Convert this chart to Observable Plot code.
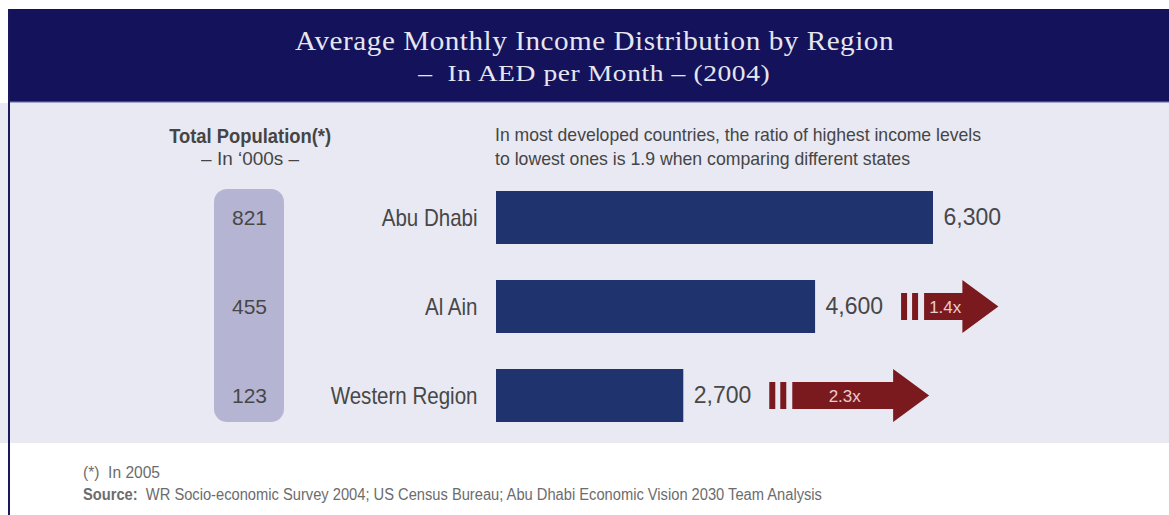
<!DOCTYPE html>
<html>
<head>
<meta charset="utf-8">
<script src="https://cdn.jsdelivr.net/npm/d3@7"></script>
<script src="https://cdn.jsdelivr.net/npm/@observablehq/plot@0.6"></script>
<style>
  html, body { margin: 0; padding: 0; background: #ffffff; }
  #root { position: relative; width: 1169px; height: 515px; overflow: hidden; background: #fff; }
  .abs { position: absolute; }
  #header { left: 8px; top: 9px; width: 1161px; height: 92px; background: #13125a; }
  #hline1 { left: 8px; top: 101px; width: 1161px; height: 1px; background: #4d4588; }
  #hline2 { left: 8px; top: 102px; width: 1161px; height: 1px; background: #a3a3cc; }
  #panel { left: 0; top: 103px; width: 1169px; height: 340px; background: #e9e9f3; }
  #lborder { left: 8px; top: 9px; width: 2px; height: 506px; background: #1b185e; z-index: 5; }
  .title { color: #e6e6ef; font-family: "Liberation Serif", "DejaVu Serif", serif; letter-spacing: 0.5px; }
  .sans { font-family: "Liberation Sans", Arial, sans-serif; }
  .fit { display: inline-block; white-space: nowrap; }
  .foot { color: #6c6c6c; font-size: 16px; line-height: 20px; }
</style>
</head>
<body>
<div id="root">
  <div id="header" class="abs"></div>
  <div id="hline1" class="abs"></div>
  <div id="hline2" class="abs"></div>
  <div class="abs" style="left:0;width:1190px;top:25px;text-align:center;line-height:32px;">
    <span class="fit title" data-w="599" style="font-size:27px;">Average Monthly Income Distribution by Region</span>
  </div>
  <div class="abs" style="left:0;width:1188px;top:58px;text-align:center;line-height:30px;">
    <span class="fit title" data-w="352" style="font-size:24px;">–&nbsp; In AED per Month – (2004)</span>
  </div>
  <div id="panel" class="abs"></div>
  <div class="abs sans" style="left:150px;width:200px;top:125px;text-align:center;color:#454545;line-height:22px;">
    <span class="fit" data-w="162" style="font-size:20px;font-weight:bold;">Total Population(*)</span>
  </div>
  <div class="abs sans" style="left:150px;width:200px;top:148px;text-align:center;color:#454545;line-height:22px;">
    <span class="fit" data-w="98" style="font-size:19px;">– In ‘000s –</span>
  </div>
  <div class="abs sans" style="left:495px;top:123px;color:#454545;line-height:23px;">
    <span class="fit" data-w="486" data-origin="left center" style="font-size:19px;">In most developed countries, the ratio of highest income levels</span><br>
    <span class="fit" data-w="415" data-origin="left center" style="font-size:19px;">to lowest ones is 1.9 when comparing different states</span>
  </div>
  <div id="chart" class="abs" style="left:0;top:103px;"></div>
  <div id="lborder" class="abs"></div>
  <div class="abs sans foot" style="left:83px;top:463px;">
    <span class="fit" data-w="77" data-origin="left center">(*)&nbsp; In 2005</span>
  </div>
  <div class="abs sans foot" style="left:83px;top:485px;">
    <span class="fit" data-w="739" data-origin="left center"><b>Source:</b>&nbsp; WR Socio-economic Survey 2004; US Census Bureau; Abu Dhabi Economic Vision 2030 Team Analysis</span>
  </div>
</div>
<script>
// ---- data ----
const regions = ["Abu Dhabi", "Al Ain", "Western Region"];
const income = [6300, 4600, 2700];           // AED per month (2004)
const population = [821, 455, 123];          // '000s (2005)
const ratios = [null, 1.4, 2.3];             // Abu Dhabi income / region income
const ratioLabels = ["", "1.4x", "2.3x"];

const data = regions.map((r, i) => ({
  region: r, income: income[i], pop: population[i], ratio: ratios[i], ratioLabel: ratioLabels[i]
}));

const BAR = "#1f336f";
const ARROW = "#7a1a1f";
const TEXT = "#474747";
const fmt = d3.format(",");

const plot = Plot.plot({
  width: 1169,
  height: 340,
  marginTop: 87,
  marginBottom: 20,
  marginLeft: 496,
  marginRight: 0,
  style: { background: "transparent", fontFamily: "'Liberation Sans', Arial, sans-serif", color: TEXT, overflow: "visible" },
  x: { domain: [0, 6300], range: [496, 933], axis: null },
  y: { domain: regions, paddingInner: 0.4, paddingOuter: 0, axis: null },
  marks: [
    Plot.text(data, {
      y: "region", text: d => String(d.pop), frameAnchor: "left", dx: -247,
      textAnchor: "middle", fontSize: 21, fill: TEXT
    }),
    Plot.text(data, {
      y: "region", text: "region", frameAnchor: "left", dx: -19,
      textAnchor: "end", fontSize: 24, fill: TEXT, className: "condensed"
    }),
    Plot.barX(data, { x: "income", y: "region", fill: BAR }),
    Plot.text(data, {
      x: "income", y: "region", text: d => fmt(d.income), dx: 10, textAnchor: "start",
      fontSize: 23, fill: TEXT
    })
  ]
});

document.getElementById("chart").appendChild(plot);

// condensed look for the region labels
plot.querySelectorAll(".condensed text").forEach(t => {
  const len = t.getComputedTextLength();
  t.setAttribute("textLength", (len * 0.855).toFixed(1));
  t.setAttribute("lengthAdjust", "spacingAndGlyphs");
});

// ---- decorations driven by the scales ----
const sx = plot.scale("x"), sy = plot.scale("y");
const bw = sy.bandwidth;
const svg = d3.select(plot);

// population pill behind the numbers
const yTop = sy.apply(regions[0]);
const yBot = sy.apply(regions[regions.length - 1]) + bw;
svg.insert("rect", ":first-child")
  .attr("x", 214).attr("width", 70)
  .attr("y", yTop - 2).attr("height", yBot - yTop + 2)
  .attr("rx", 13).attr("fill", "#b5b5d3");

// ratio arrows
const g = svg.append("g");
data.filter(d => d.ratio != null).forEach(d => {
  const x0 = sx.apply(d.income) + 86;
  const cy = sy.apply(d.region) + bw / 2;
  const tip = x0 + d.ratio * 69.5;
  const hb = 13.5, hh = 26.5, headLen = 36;
  g.append("rect").attr("x", x0).attr("y", cy - hb).attr("width", 6).attr("height", 2 * hb).attr("fill", ARROW);
  g.append("rect").attr("x", x0 + 11).attr("y", cy - hb).attr("width", 6).attr("height", 2 * hb).attr("fill", ARROW);
  const bx = x0 + 23, hx = tip - headLen;
  g.append("path")
    .attr("d", `M${bx},${cy - hb}H${hx}V${cy - hh}L${tip},${cy}L${hx},${cy + hh}V${cy + hb}H${bx}Z`)
    .attr("fill", ARROW);
  g.append("text")
    .attr("x", (bx + hx) / 2 + 2).attr("y", cy).attr("dy", "0.36em")
    .attr("text-anchor", "middle")
    .attr("font-size", 17)
    .attr("fill", "#e9cccc")
    .text(d.ratioLabel);
});

// fit HTML text blocks to their widths in the reference layout
document.querySelectorAll(".fit").forEach(el => {
  const w = +el.dataset.w;
  const nat = el.getBoundingClientRect().width;
  if (w && nat) {
    el.style.transform = `scaleX(${(w / nat).toFixed(4)})`;
    el.style.transformOrigin = el.dataset.origin || "center center";
  }
});
</script>
</body>
</html>
